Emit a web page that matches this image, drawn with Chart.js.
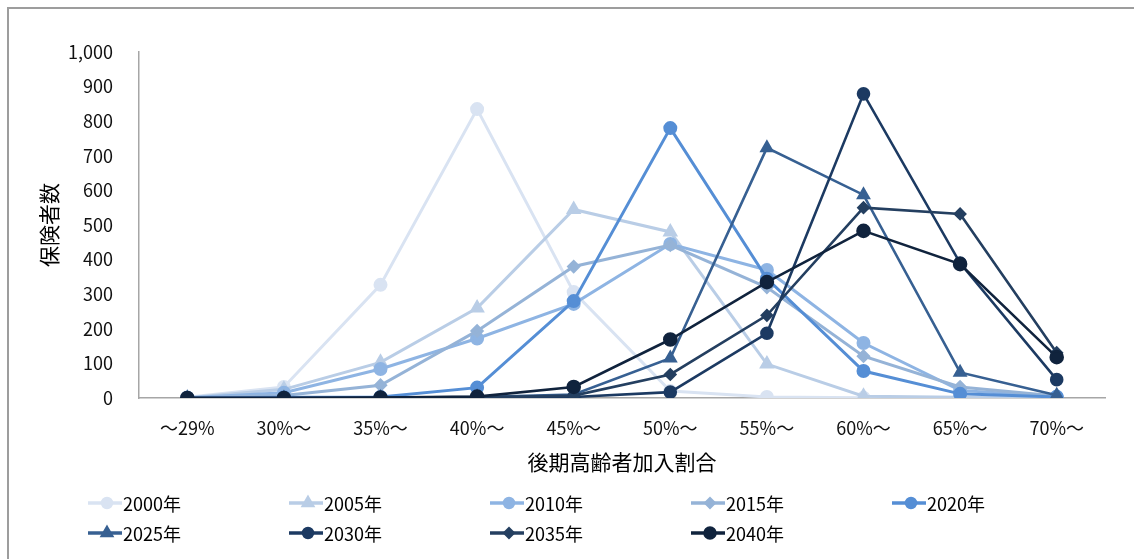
<!DOCTYPE html>
<html lang="ja">
<head>
<meta charset="utf-8">
<title>保険者数</title>
<script src="https://cdn.jsdelivr.net/npm/chart.js@4.4.1/dist/chart.umd.min.js"></script>
<style>
  html, body { margin: 0; padding: 0; background: #fff; overflow: hidden; }
  canvas { display: block; }
</style>
</head>
<body>
<canvas id="LineChart" width="1134" height="559"></canvas>
<script>
// 後期高齢者加入割合 categories
const categories = ['～29%', '30%～', '35%～', '40%～', '45%～', '50%～', '55%～', '60%～', '65%～', '70%～'];
const years = ['2000年', '2005年', '2010年', '2015年', '2020年', '2025年', '2030年', '2035年', '2040年'];

// 保険者数 per year
const y2000 = [2, 32, 327, 835, 306, 20, 3, 1, 0, 0];
const y2005 = [1, 25, 103, 260, 545, 480, 98, 5, 2, 1];
const y2010 = [1, 15, 84, 172, 272, 445, 370, 159, 22, 4];
const y2015 = [0, 7, 37, 194, 380, 442, 320, 121, 32, 6];
const y2020 = [0, 2, 3, 30, 280, 780, 345, 78, 12, 3];
const y2025 = [0, 0, 1, 3, 10, 115, 723, 587, 74, 8];
const y2030 = [0, 0, 0, 1, 3, 17, 187, 879, 390, 53];
const y2035 = [0, 0, 0, 2, 7, 68, 239, 550, 532, 131];
const y2040 = [0, 0, 1, 4, 32, 169, 335, 483, 387, 118];

const yMax = 1000;
const yStep = 100;

const seriesValues = [y2000, y2005, y2010, y2015, y2020, y2025, y2030, y2035, y2040];
const colors = ['#d9e3f2', '#b9cde6', '#8eb4e3', '#95b3d7', '#558ed5', '#376092', '#1c3a62', '#243f60', '#10233d'];
const markers = ['circle', 'triangle', 'circle', 'rectRot', 'circle', 'triangle', 'circle', 'rectRot', 'circle'];
const markerSizes = [5.5, 6, 5.5, 5, 5.5, 6, 5.5, 5, 6];

const fontFamily = '"Noto Sans CJK JP", "Noto Sans", sans-serif';
Chart.defaults.font.family = fontFamily;

const datasets = years.map((year, i) => ({
  label: year,
  data: seriesValues[i],
  borderColor: colors[i],
  backgroundColor: colors[i],
  pointBackgroundColor: colors[i],
  pointBorderColor: colors[i],
  pointStyle: markers[i],
  pointRadius: markerSizes[i],
  pointHoverRadius: markerSizes[i],
  borderWidth: i < 5 ? 3 : 2.6,
  tension: 0,
  order: years.length - i   // later years on top
}));

// gray frame around the chart
const frame = {
  id: 'frame',
  beforeDraw(chart) {
    const ctx = chart.ctx;
    ctx.save();
    ctx.fillStyle = '#fff';
    ctx.fillRect(0, 0, chart.width, chart.height);
    ctx.strokeStyle = '#9d9d9d';
    ctx.lineWidth = 2;
    ctx.strokeRect(8, 8, 1400, 1400);
    ctx.restore();
  }
};

// legend in a 5-column grid, line sample with marker
const legendGrid = {
  id: 'legendGrid',
  afterDraw(chart, args, opts) {
    const ctx = chart.ctx;
    chart.data.datasets.forEach((ds, i) => {
      const col = i % opts.columns;
      const row = Math.floor(i / opts.columns);
      const cx = opts.x + col * opts.colWidth;
      const cy = opts.y + row * opts.rowHeight;
      ctx.save();
      ctx.strokeStyle = ds.borderColor;
      ctx.lineWidth = 3.5;
      ctx.beginPath();
      ctx.moveTo(cx - 19, cy);
      ctx.lineTo(cx + 15, cy);
      ctx.stroke();
      ctx.fillStyle = ds.pointBackgroundColor;
      ctx.strokeStyle = ds.pointBorderColor;
      Chart.helpers.drawPoint(ctx, {pointStyle: ds.pointStyle, radius: ds.pointRadius - 1, rotation: 0, borderWidth: 1}, cx, cy);
      ctx.fillStyle = '#000';
      ctx.font = '18px ' + fontFamily;
      ctx.textBaseline = 'middle';
      ctx.textAlign = 'left';
      ctx.fillText(ds.label, cx + 16, cy + 1);
      ctx.restore();
    });
  }
};

new Chart(document.getElementById('LineChart'), {
  type: 'line',
  data: { labels: categories, datasets: datasets },
  plugins: [frame, legendGrid],
  options: {
    responsive: false,
    animation: false,
    devicePixelRatio: 1,
    layout: { padding: { left: 30, right: 29, top: 52, bottom: 81 } },
    plugins: {
      legend: { display: false },
      tooltip: { enabled: false },
      legendGrid: { x: 107, y: 503, colWidth: 201, rowHeight: 30, columns: 5 }
    },
    scales: {
      x: {
        offset: true,
        grid: { display: false, drawTicks: false },
        border: { display: true, color: '#a6a6a6', width: 1.5 },
        ticks: { color: '#111', font: { size: 18 }, padding: 19, maxRotation: 0, autoSkip: false },
        title: { display: true, text: '後期高齢者加入割合', color: '#000', font: { size: 21 }, padding: { top: 0, bottom: 3 } },
        afterFit(scale) { scale.height = 80; }
      },
      y: {
        min: 0,
        max: yMax,
        grid: { display: false, drawTicks: false },
        border: { display: true, color: '#a6a6a6', width: 1.5 },
        ticks: {
          stepSize: yStep,
          color: '#111',
          font: { size: 18 },
          padding: 26,
          callback: v => v.toLocaleString('en-US')
        },
        title: { display: true, text: '保険者数', color: '#000', font: { size: 21 }, padding: { top: 6, bottom: 0 } },
        afterFit(scale) { scale.width = 109; }
      }
    }
  }
});
</script>
</body>
</html>
